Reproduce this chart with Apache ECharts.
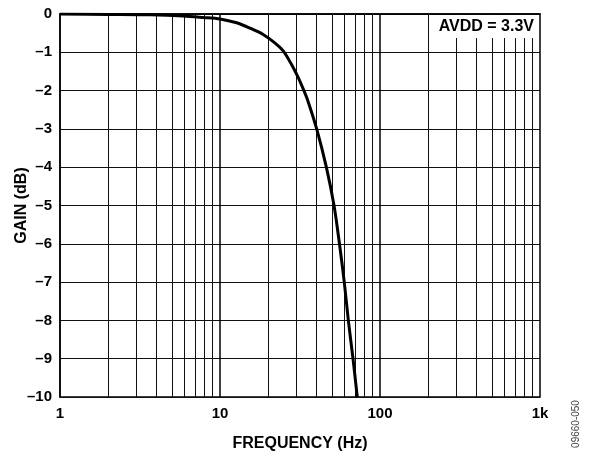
<!DOCTYPE html>
<html><head><meta charset="utf-8">
<script src="https://cdn.jsdelivr.net/npm/echarts@6/dist/echarts.min.js"></script>
<style>html,body{margin:0;padding:0;background:#fff}#c{width:602px;height:456px}</style>
</head><body><div id="c"></div>
<script>
const freq = [1, 2, 3.65, 5.9, 7.86, 10, 12.7, 15.4, 18.7, 22.1, 24.9, 28, 30.9, 33.2, 35.3, 40.2, 46.2, 51.6, 55.8, 59.8, 63.4, 67.8, 72.1];
const gain = [0, -0.01, -0.02, -0.05, -0.09, -0.13, -0.23, -0.37, -0.54, -0.76, -0.97, -1.32, -1.67, -1.97, -2.25, -3, -4, -5, -6, -7, -8, -9, -10];
const minorX = [2,3,4,5,6,7,8,9,20,30,40,50,60,70,80,90,200,300,400,500,600,700,800,900];
const majorX = [10, 100];
const xTickLabels = {1:'1', 10:'10', 100:'100', 1000:'1k'};
const annotation = 'AVDD = 3.3V';
const figId = '09660-050';

const font = 'Liberation Sans, Arial, sans-serif';
const chart = echarts.init(document.getElementById('c'));
chart.setOption({
  animation: false,
  grid: {left: 60, right: 62, top: 14, bottom: 59, show: true, borderColor: '#000', borderWidth: 1.5,
         containLabel: false, outerBoundsMode: 'none'},
  xAxis: {
    type: 'log', logBase: 10, min: 1, max: 1000,
    name: 'FREQUENCY (Hz)', nameLocation: 'middle', nameGap: 39, nameMoveOverlap: false,
    nameTextStyle: {fontFamily: font, fontWeight: 'bold', fontSize: 16, color: '#000'},
    axisLine: {lineStyle: {color: '#000', width: 1.5}},
    axisTick: {show: false},
    splitLine: {show: false},
    axisLabel: {fontFamily: font, fontWeight: 'bold', fontSize: 15, color: '#000', margin: 9,
      formatter: v => xTickLabels[Math.round(v)] || ''}
  },
  yAxis: {
    type: 'value', min: -10, max: 0, interval: 1,
    name: 'GAIN (dB)', nameLocation: 'middle', nameGap: 30, nameMoveOverlap: false,
    nameTextStyle: {fontFamily: font, fontWeight: 'bold', fontSize: 16, color: '#000'},
    axisLine: {lineStyle: {color: '#000', width: 1.5}},
    axisTick: {show: false},
    splitLine: {show: true, lineStyle: {color: '#111', width: 1}},
    axisLabel: {fontFamily: font, fontWeight: 'bold', fontSize: 15, color: '#000', margin: 8,
      formatter: v => (v < 0 ? '\u2013' + Math.abs(v) : String(v))}
  },
  series: [
    {
      type: 'line', data: [], silent: true,
      markLine: {silent: true, symbol: 'none', label: {show: false},
        lineStyle: {color: '#111', width: 1, type: 'solid'},
        data: minorX.map(v => ({xAxis: v}))}
    },
    {
      type: 'line', data: [], silent: true,
      markLine: {silent: true, symbol: 'none', label: {show: false},
        lineStyle: {color: '#000', width: 1.5, type: 'solid'},
        data: majorX.map(v => ({xAxis: v}))}
    },
    {
      type: 'line', data: freq.map((f, i) => [f, gain[i]]),
      showSymbol: false, smooth: 0.3, z: 5,
      lineStyle: {color: '#000', width: 3}
    }
  ],
  graphic: [
    {type: 'rect', z: 100, shape: {x: 430, y: 15, width: 109, height: 23}, style: {fill: '#fff'}},
    {type: 'text', z: 101, x: 534, y: 27, style: {text: annotation, fontFamily: font, fontWeight: 'bold', fontSize: 16, fill: '#000', textAlign: 'right', textVerticalAlign: 'middle'}},
    {type: 'text', z: 101, x: 576, y: 424, rotation: Math.PI/2, style: {text: figId, fontFamily: font, fontSize: 10, fill: '#444', textAlign: 'center', textVerticalAlign: 'middle'}}
  ]
});
</script>
</body></html>
